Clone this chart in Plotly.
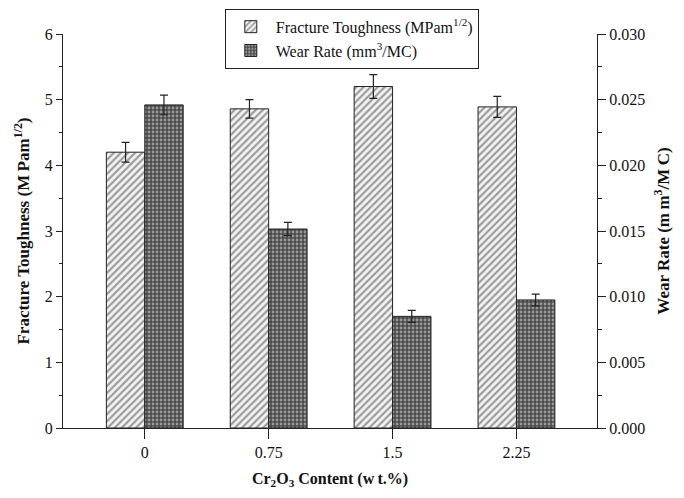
import plotly.graph_objects as go

categories = ["0", "0.75", "1.5", "2.25"]
fracture_toughness = [4.2, 4.86, 5.2, 4.89]
fracture_err = [0.15, 0.14, 0.18, 0.16]
wear_rate = [0.0246, 0.01515, 0.0085, 0.00975]
wear_err = [0.00075, 0.0005, 0.00045, 0.00045]

FONT = "Liberation Serif, Times New Roman, serif"
TS = "\u2009"

fig = go.Figure()
fig.add_trace(go.Bar(
    x=categories, y=fracture_toughness,
    name="Fracture Toughness (MPam<sup>1/2</sup>)",
    width=0.31, offset=-0.31,
    marker=dict(color="white", line=dict(color="#222", width=1),
                pattern=dict(shape="/", fgcolor="#444", bgcolor="#f4f4f4", size=5, solidity=0.45)),
    error_y=dict(type="data", array=fracture_err, color="#222", thickness=1.2, width=4),
    yaxis="y",
))
fig.add_trace(go.Bar(
    x=categories, y=wear_rate,
    name="Wear Rate (mm<sup>3</sup>/MC)",
    width=0.31, offset=0,
    marker=dict(color="#555", line=dict(color="#222", width=1),
                pattern=dict(shape=".", fgcolor="#e8e8e8", bgcolor="#4a4a4a", size=4, solidity=0.4)),
    error_y=dict(type="data", array=wear_err, color="#222", thickness=1.2, width=4),
    yaxis="y2",
))

fig.update_layout(
    width=676, height=490,
    margin=dict(l=55, r=87, t=26, b=70, autoexpand=False),
    paper_bgcolor="white", plot_bgcolor="white",
    font=dict(family=FONT, size=16, color="#111"),
    showlegend=True,
    legend=dict(x=0.303, y=1.064, xanchor="left", yanchor="top",
                bordercolor="#222", borderwidth=1, bgcolor="white",
                font=dict(family=FONT, size=16), tracegroupgap=0,
                itemwidth=40),
    xaxis=dict(type="category", range=[-0.66, 3.65], showline=True, linecolor="#222", linewidth=1.3,
               ticks="outside", ticklen=10, tickcolor="#222", showgrid=False, zeroline=False,
               title=dict(text=f"<b>Cr<sub>2</sub>O<sub>3</sub> Content (w{TS}t.%)</b>", standoff=12,
                          font=dict(family=FONT, size=16))),
    yaxis=dict(range=[0, 6], dtick=1, showline=True, linecolor="#222", linewidth=1.3,
               ticks="outside", ticklen=6, tickcolor="#222", showgrid=False, zeroline=False,
               minor=dict(ticks="outside", dtick=0.5, ticklen=3, tickcolor="#222"),
               title=dict(text=f"<b>Fracture Toughness (M{TS}Pam<sup>1/2</sup>)</b>", standoff=10,
                          font=dict(family=FONT, size=17))),
    yaxis2=dict(range=[0, 0.030], dtick=0.005, tickformat=".3f", overlaying="y", side="right",
                showline=True, linecolor="#222", linewidth=1.3,
                ticks="outside", ticklen=8, tickcolor="#222", showgrid=False, zeroline=False,
                minor=dict(ticks="outside", dtick=0.0025, ticklen=4, tickcolor="#222"),
                title=dict(text=f"<b>Wear Rate (m{TS}m<sup>3</sup>/M{TS}C)</b>", standoff=12,
                           font=dict(family=FONT, size=17))),
)

fig.write_html("out.html")
